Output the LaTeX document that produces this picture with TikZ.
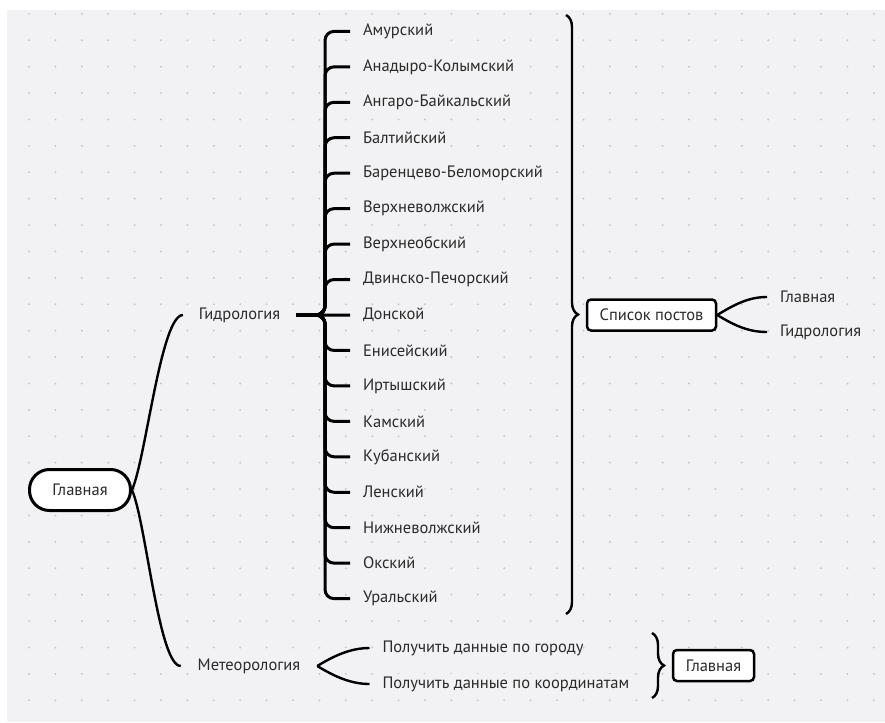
\documentclass[tikz,border=0pt]{standalone}
\usepackage{fontspec}
\setmainfont{PT Sans}
\usepackage{tikz}
\usetikzlibrary{decorations.pathreplacing}

\definecolor{bg}{HTML}{F2F2F4}
\definecolor{dotc}{HTML}{C8C8CC}
\definecolor{txt}{HTML}{2A2A2A}

\tikzset{
  lbl/.style={text=txt, font=\fontsize{16.5}{19}\selectfont, fill=bg, inner xsep=0pt, inner ysep=3pt},
  item/.style={lbl, anchor=west, outer xsep=13pt},
  box/.style={draw=black, line width=2.5pt, fill=white, rounded corners=4pt, text=txt,
    font=\fontsize{16.5}{19}\selectfont, minimum height=31pt, inner xsep=0pt},
  conn/.style={line width=2.4pt},
  branch/.style={line width=3pt, rounded corners=9pt},
  bigbrace/.style={line width=2.4pt, decorate, decoration={brace, amplitude=12pt}}
}

\begin{document}
\begin{tikzpicture}[x=1pt,y=-1pt]
  \useasboundingbox (0,0) rectangle (885,722);
  \fill[white] (0,0) rectangle (885,722);
  \fill[bg] (7,10) rectangle (885,722);
  % dot grid
  \foreach \i in {0,...,32}
    \foreach \j in {0,...,26}
      \fill[dotc] (29+26.4*\i, 13.9+26.4*\j) circle [radius=1.1];

  % root and first level
  \node [box, rounded corners=20pt, line width=3pt, minimum width=101pt, minimum height=41pt] (root) at (80,490) {Главная};
  \node [lbl, outer xsep=16pt] (gidro) at (239.5,315) {Гидрология};
  \node [lbl, outer xsep=17pt] (meteo) at (249,666) {Метеорология};
  \draw [conn] (root.east) .. controls +(14,-32) and +(-22,0) .. (gidro.west);
  \draw [conn] (root.east) .. controls +(14,32) and +(-22,0) .. (meteo.west);

  % basins
  \foreach \name [count=\k from 0] in {Амурский, Анадыро-Колымский, Ангаро-Байкальский,
      Балтийский, Баренцево-Беломорский, Верхневолжский, Верхнеобский,
      Двинско-Печорский, Донской, Енисейский, Иртышский, Камский, Кубанский,
      Ленский, Нижневолжский, Окский, Уральский} {
    \node [item] (b\k) at (350, 315+35.45*\k-283.6) {\name};
    \ifnum\k=8
      \draw [branch] (gidro.east) -- (b\k.west);
    \else
      \draw [branch] (gidro.east) -| ([xshift=-25pt]b\k.west) -- (b\k.west);
    \fi
  }

  % list of posts
  \coordinate (bt) at (566,15);
  \coordinate (bb) at (566,614);
  \draw [bigbrace] (bt) -- (bb);
  \node [box, minimum width=129pt] (spis) at (651.5,315) {Список постов};
  \node [item] (sglav) at (767,297) {Главная};
  \node [item] (sgidro) at (767,332) {Гидрология};
  \draw [conn] (spis.east) .. controls +(18,-11) and +(-18,0) .. (sglav.west);
  \draw [conn] (spis.east) .. controls +(18,11) and +(-18,0) .. (sgidro.west);

  % meteorology
  \node [item] (gorod) at (369.5,648) {Получить данные по городу};
  \node [item] (koord) at (369.5,684) {Получить данные по координатам};
  \draw [conn] (meteo.east) .. controls +(18,-11) and +(-18,0) .. (gorod.west);
  \draw [conn] (meteo.east) .. controls +(18,11) and +(-18,0) .. (koord.west);
  \coordinate (mt) at (652,633);
  \coordinate (mb) at (652,698);
  \draw [bigbrace] (mt) -- (mb);
  \node [box, minimum width=81pt] (mglav) at (713.5,665.5) {Главная};
\end{tikzpicture}
\end{document}
